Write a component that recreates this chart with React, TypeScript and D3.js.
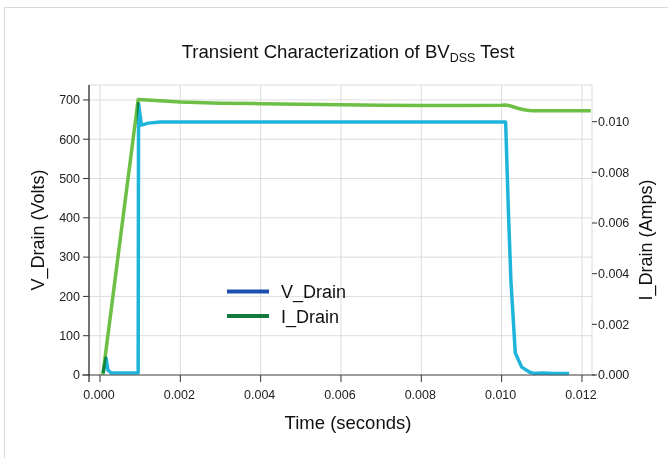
import React from "react";
import * as d3 from "d3";

const title = "Transient Characterization of BV";
const titleSub = "DSS";
const titleEnd = " Test";
const xLabel = "Time (seconds)";
const yLeftLabel = "V_Drain (Volts)";
const yRightLabel = "I_Drain (Amps)";
const seriesNames = ["V_Drain", "I_Drain"];

const xTicks = [0, 0.002, 0.004, 0.006, 0.008, 0.01, 0.012];
const yLeftTicks = [0, 100, 200, 300, 400, 500, 600, 700];
const yRightTicks = [0, 0.002, 0.004, 0.006, 0.008, 0.01];

const timeV = [0.00008, 0.00015, 0.0002, 0.00028, 0.0005, 0.00095, 0.00096, 0.00103, 0.0012, 0.0015, 0.003, 0.005, 0.007, 0.009, 0.0101, 0.01017, 0.01023, 0.01034, 0.0105, 0.0107, 0.0108, 0.0110, 0.0113, 0.01168];
const vDrain = [5, 43, 12, 5, 5, 5, 690, 636, 641, 644, 644, 644, 644, 644, 644, 412, 242, 56, 20, 7, 4, 5, 4, 4];

const timeI = [0.00007, 0.00095, 0.0015, 0.002, 0.003, 0.004, 0.005, 0.006, 0.007, 0.008, 0.009, 0.0100, 0.0101, 0.0102, 0.0103, 0.0104, 0.0105, 0.0106, 0.0107, 0.0108, 0.0110, 0.0115, 0.01222];
const iDrain = [0, 0.01087, 0.01083, 0.01078, 0.01073, 0.01071, 0.01069, 0.01067, 0.01065, 0.01064, 0.01064, 0.01065, 0.01066, 0.01063, 0.01058, 0.01053, 0.01049, 0.01046, 0.01044, 0.01043, 0.01043, 0.01043, 0.01043];

const W = 668;
const H = 458;
const L = 89, R = 592, T = 85, B = 375;

const FONT = "'Liberation Sans', Arial, Helvetica, sans-serif";
const CYAN = "#1fb4dc";
const GREEN = "#6dbf45";
const LEG_BLUE = "#1c50b0";
const LEG_GREEN = "#127a3c";

export default function App() {
  const x = d3.scaleLinear().domain([-0.000274, 0.01225]).range([L, R]);
  const yL = d3.scaleLinear().domain([0, 738]).range([B, T]);
  const yR = d3.scaleLinear().domain([0, 0.011447]).range([B, T]);

  const vPts: [number, number][] = timeV.map((t, i) => [t, vDrain[i]]);
  const iPts: [number, number][] = timeI.map((t, i) => [t, iDrain[i]]);

  const vLine = d3.line<[number, number]>().x((d) => x(d[0])).y((d) => yL(d[1]));
  const iLine = d3.line<[number, number]>().x((d) => x(d[0])).y((d) => yR(d[1]));

  const fmt3 = d3.format(".3f");

  return (
    <svg
      width={W}
      height={H}
      style={{ position: "absolute", left: 0, top: 0, display: "block", background: "#fff" }}
      fontFamily={FONT}
    >
      <rect x={4.5} y={7.5} width={800} height={600} fill="#fff" stroke="#d8d8d8" strokeWidth={1} />

      <text x={348} y={58} fontSize={18.6} textAnchor="middle" fill="#111">
        {title}
        <tspan fontSize={12.5} dy={4}>{titleSub}</tspan>
        <tspan dy={-4}>{titleEnd}</tspan>
      </text>

      {/* grid */}
      <g stroke="#dcdcdc" strokeWidth={1}>
        {xTicks.map((t) => (
          <line key={"gx" + t} x1={x(t)} x2={x(t)} y1={T} y2={B} />
        ))}
        {yLeftTicks.map((t) => (
          <line key={"gy" + t} x1={L} x2={R} y1={yL(t)} y2={yL(t)} />
        ))}
        <rect x={L} y={T} width={R - L} height={B - T} fill="none" />
      </g>

      {/* series */}
      <g style={{ isolation: "isolate" }}>
        <path d={vLine(vPts) || ""} fill="none" stroke={CYAN} strokeWidth={3.5} strokeLinejoin="round" style={{ mixBlendMode: "multiply" }} />
        <path d={iLine(iPts) || ""} fill="none" stroke={GREEN} strokeWidth={3.5} strokeLinejoin="round" style={{ mixBlendMode: "multiply" }} />
      </g>

      {/* axes lines */}
      <line x1={82} x2={595} y1={B} y2={B} stroke="#555" strokeWidth={1.2} />
      <line x1={L} x2={L} y1={T} y2={382} stroke="#222" strokeWidth={1.2} />

      {/* x ticks */}
      {xTicks.map((t) => (
        <g key={"xt" + t}>
          <line x1={x(t)} x2={x(t)} y1={B} y2={B + 7} stroke="#333" strokeWidth={1} />
          <text x={x(t) - 1} y={399} fontSize={12.5} textAnchor="middle" fill="#222">
            {fmt3(t)}
          </text>
        </g>
      ))}

      {/* left ticks */}
      {yLeftTicks.map((t) => (
        <g key={"yl" + t}>
          <line x1={L - 6} x2={L} y1={yL(t)} y2={yL(t)} stroke="#333" strokeWidth={1} />
          <text x={80} y={yL(t)} dy="0.35em" fontSize={12.5} textAnchor="end" fill="#222">
            {t}
          </text>
        </g>
      ))}

      {/* right ticks */}
      {yRightTicks.map((t) => (
        <g key={"yr" + t}>
          <line x1={R} x2={R + 5} y1={yR(t)} y2={yR(t)} stroke="#333" strokeWidth={1} />
          <text x={598} y={yR(t)} dy="0.35em" fontSize={12.5} textAnchor="start" fill="#222">
            {fmt3(t)}
          </text>
        </g>
      ))}

      {/* axis labels */}
      <text x={348} y={429} fontSize={18.5} textAnchor="middle" fill="#111">
        {xLabel}
      </text>
      <text transform={`translate(44,230) rotate(-90)`} fontSize={18} textAnchor="middle" fill="#111">
        {yLeftLabel}
      </text>
      <text transform={`translate(652,240) rotate(-90)`} fontSize={18} textAnchor="middle" fill="#111">
        {yRightLabel}
      </text>

      {/* legend */}
      <g>
        <line x1={227} x2={269} y1={291.5} y2={291.5} stroke={LEG_BLUE} strokeWidth={4} />
        <text x={281} y={298} fontSize={18} fill="#111">{seriesNames[0]}</text>
        <line x1={227} x2={269} y1={316} y2={316} stroke={LEG_GREEN} strokeWidth={4} />
        <text x={281} y={322.5} fontSize={18} fill="#111">{seriesNames[1]}</text>
      </g>
    </svg>
  );
}
